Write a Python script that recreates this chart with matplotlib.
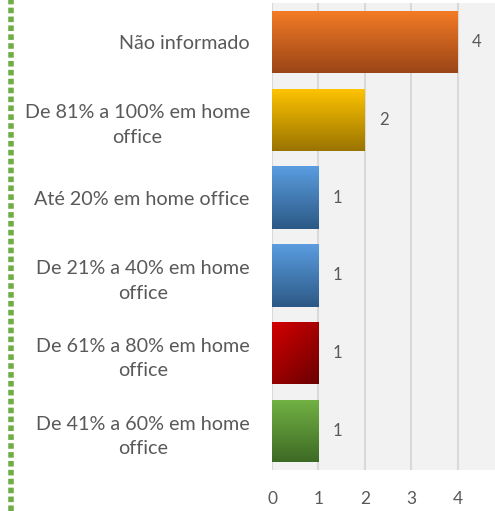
import matplotlib
matplotlib.use("Agg")
import matplotlib.pyplot as plt
import numpy as np
from matplotlib.colors import to_rgb
from matplotlib.lines import Line2D

categories = ["Não informado", "De 81% a 100% em home\noffice", "Até 20% em home office",
              "De 21% a 40% em home\noffice", "De 61% a 80% em home\noffice",
              "De 41% a 60% em home\noffice"]
values = [4, 2, 1, 1, 1, 1]
xticks = [0, 1, 2, 3, 4]
top_colors = ["#f57c26", "#ffc400", "#5a9de0", "#5a9de0", "#d40000", "#72b244"]
bottom_colors = ["#9a4517", "#9a7400", "#2c5985", "#2c5985", "#6a0000", "#3d6a24"]
diagonal = [False, False, False, False, True, False]

plt.rcParams['font.family'] = ['Lato', 'DejaVu Sans']
fig = plt.figure(figsize=(4.95, 5.11), dpi=100)
ax = fig.add_axes([272/495, 1-470/511, 1-272/495, 467/511])
ax.set_facecolor("#f2f2f2")

n = len(categories)
pos = np.arange(n)[::-1]
bars = ax.barh(pos, values, height=0.8, color="none", zorder=3)

for b, v, tc, bc, dg in zip(bars, values, top_colors, bottom_colors, diagonal):
    t0 = np.array(to_rgb(tc)); t1 = np.array(to_rgb(bc))
    N = 100
    yy = np.linspace(0, 1, N)[:, None]
    xx = np.linspace(0, 1, N)[None, :]
    if dg:
        t = (yy * 0.7 + xx * 0.5) / 1.2
    else:
        t = np.repeat(yy, N, axis=1)
    img = t0[None, None, :] * (1 - t[..., None]) + t1[None, None, :] * t[..., None]
    x0, y0 = b.get_x(), b.get_y()
    w, h = b.get_width(), b.get_height()
    im = ax.imshow(img, extent=(x0, x0 + w, y0, y0 + h), origin="upper",
                   aspect="auto", zorder=3, interpolation="bilinear")
    im.set_clip_path(b)
    ax.annotate(str(v), (x0 + w, y0 + h / 2), xytext=(10, 0), textcoords="offset points",
                va="center", ha="left", fontsize=12, color="#595959")

ax.set_xlim(0, 4.8)
ax.set_ylim(-0.5, n - 0.5)
ax.set_xticks(xticks)
ax.set_xticklabels([str(x) for x in xticks])
ax.set_yticks(pos)
ax.set_yticklabels(categories, fontsize=14.2, color="#595959", ha="right",
                   multialignment="center", linespacing=1.55)
ax.tick_params(axis="y", length=0, pad=16)
ax.tick_params(axis="x", length=0, pad=15, labelsize=12.5, labelcolor="#595959")
ax.grid(axis="x", color="#d9d9d9", linewidth=1.5, zorder=1)
ax.set_axisbelow(True)
for s in ax.spines.values():
    s.set_visible(False)

fig.add_artist(Line2D([11/495, 11/495], [0, 1], transform=fig.transFigure,
                      color="#70ad47", linewidth=4, linestyle=(0, (1.0, 0.6))))

fig.savefig("out.png", dpi=100, facecolor="white")
